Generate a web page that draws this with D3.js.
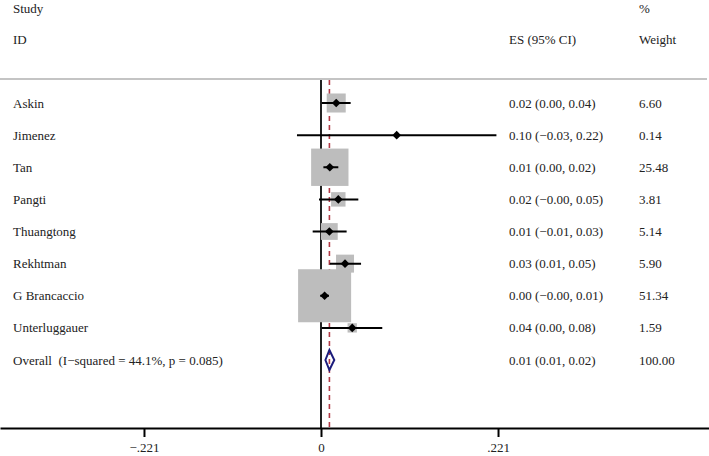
<!DOCTYPE html>
<html>
<head>
<meta charset="utf-8">
<script src="https://cdn.jsdelivr.net/npm/d3@7"></script>
<style>
  body { margin: 0; background: #fff; }
  text { font-family: "Liberation Serif", "Times New Roman", serif; font-size: 13px; fill: #222; }
</style>
</head>
<body>
<svg width="709" height="456"></svg>
<script>
// study rows, in plot order
var studies  = ["Askin", "Jimenez", "Tan", "Pangti", "Thuangtong", "Rekhtman", "G Brancaccio", "Unterluggauer"];
var es       = [0.019, 0.0945, 0.011, 0.0216, 0.0104, 0.030, 0.0045, 0.039];
var ciLow    = [0.001, -0.030, 0.003, -0.0025, -0.0104, 0.011, -0.001, 0.001];
var ciHigh   = [0.037, 0.219, 0.0216, 0.0466, 0.032, 0.050, 0.010, 0.0765];
var weights  = [6.60, 0.14, 25.48, 3.81, 5.14, 5.90, 51.34, 1.59];
var esLabels = ["0.02 (0.00, 0.04)", "0.10 (\u22120.03, 0.22)", "0.01 (0.00, 0.02)", "0.02 (\u22120.00, 0.05)",
                "0.01 (\u22120.01, 0.03)", "0.03 (0.01, 0.05)", "0.00 (\u22120.00, 0.01)", "0.04 (0.00, 0.08)"];
var wLabels  = ["6.60", "0.14", "25.48", "3.81", "5.14", "5.90", "51.34", "1.59"];

// pooled estimate
var overallLabel  = "Overall  (I\u2212squared = 44.1%, p = 0.085)";
var overall       = {es: 0.0105, lo: 0.0055, hi: 0.0166};
var overallEs     = "0.01 (0.01, 0.02)";
var overallWeight = "100.00";

var tickVals = [-0.221, 0, 0.221];

var svg = d3.select("svg");
var W = 709, H = 456;

// x scale: 0 sits at 321px, .221 is ~177px away
var x = d3.scaleLinear().domain([-321 / 801, (W - 321) / 801]).range([0, W]);

// rows: studies then overall
var rowNames = studies.concat(["overall"]);
var y = d3.scalePoint().domain(rowNames).range([103, 360]);

var boxSize = d3.scaleSqrt().domain([0, 100]).range([0, 74]);

var plotTop = 80, axisY = 428;
var colStudy = 13, colEs = 509, colW = 639;

// header
svg.append("text").attr("x", colStudy).attr("y", 8).attr("dy", "0.35em").text("Study");
svg.append("text").attr("x", colStudy).attr("y", 39).attr("dy", "0.35em").text("ID");
svg.append("text").attr("x", colEs).attr("y", 39).attr("dy", "0.35em").text("ES (95% CI)");
svg.append("text").attr("x", colW).attr("y", 8).attr("dy", "0.35em").text("%");
svg.append("text").attr("x", colW).attr("y", 39).attr("dy", "0.35em").text("Weight");

svg.append("line").attr("x1", 0).attr("x2", 707).attr("y1", 79).attr("y2", 79)
   .attr("stroke", "#c4c4c4").attr("stroke-width", 2);

// null line
svg.append("line").attr("x1", x(0)).attr("x2", x(0)).attr("y1", plotTop).attr("y2", axisY)
   .attr("stroke", "#222").attr("stroke-width", 2);

// overall effect line
svg.append("line").attr("x1", x(overall.es)).attr("x2", x(overall.es)).attr("y1", plotTop).attr("y2", axisY)
   .attr("stroke", "#b33a46").attr("stroke-width", 1.6).style("stroke-dasharray", "5,4");

// weight boxes
svg.selectAll("rect.wbox")
   .data(studies)
   .enter()
   .append("rect")
   .attr("class", "wbox")
   .attr("x", function(d, i) { return x(es[i]) - boxSize(weights[i]) / 2; })
   .attr("y", function(d, i) { return y(d) - boxSize(weights[i]) / 2; })
   .attr("width", function(d, i) { return boxSize(weights[i]); })
   .attr("height", function(d, i) { return boxSize(weights[i]); })
   .attr("fill", "#bdbdbd");

// confidence intervals
svg.selectAll("line.ci")
   .data(studies)
   .enter()
   .append("line")
   .attr("class", "ci")
   .attr("x1", function(d, i) { return x(ciLow[i]); })
   .attr("x2", function(d, i) { return x(ciHigh[i]); })
   .attr("y1", function(d) { return y(d); })
   .attr("y2", function(d) { return y(d); })
   .attr("stroke", "#000").attr("stroke-width", 2);

// point estimates (square turned 45deg)
var dia = d3.symbol().type(d3.symbolSquare).size(38);
svg.selectAll("path.pt")
   .data(studies)
   .enter()
   .append("path")
   .attr("class", "pt")
   .attr("d", dia)
   .attr("transform", function(d, i) { return "translate(" + x(es[i]) + "," + y(d) + ") rotate(45)"; })
   .attr("fill", "#000");

// overall diamond
var oy = y("overall");
svg.append("path")
   .attr("d", "M" + x(overall.lo) + "," + oy +
              "L" + x(overall.es) + "," + (oy - 10) +
              "L" + x(overall.hi) + "," + oy +
              "L" + x(overall.es) + "," + (oy + 10) + "Z")
   .attr("fill", "none").attr("stroke", "#1c1c7c").attr("stroke-width", 2);

// left and right text columns
svg.selectAll("text.name")
   .data(studies.concat([overallLabel]))
   .enter()
   .append("text")
   .attr("class", "name")
   .attr("x", colStudy)
   .attr("y", function(d, i) { return y(rowNames[i]); })
   .attr("dy", "0.35em")
   .style("white-space", "pre")
   .text(function(d) { return d; });

svg.selectAll("text.es")
   .data(esLabels.concat([overallEs]))
   .enter()
   .append("text")
   .attr("class", "es")
   .attr("x", colEs)
   .attr("y", function(d, i) { return y(rowNames[i]); })
   .attr("dy", "0.35em")
   .text(function(d) { return d; });

svg.selectAll("text.wt")
   .data(wLabels.concat([overallWeight]))
   .enter()
   .append("text")
   .attr("class", "wt")
   .attr("x", colW)
   .attr("y", function(d, i) { return y(rowNames[i]); })
   .attr("dy", "0.35em")
   .text(function(d) { return d; });

// x axis
var fmt = function(d) {
  if (d === 0) return "0";
  var s = d3.format(".3f")(Math.abs(d)).replace(/^0/, "");
  return (d < 0 ? "\u2212" : "") + s;
};
var xAxis = d3.axisBottom(x).tickValues(tickVals).tickFormat(fmt).tickSize(9).tickSizeOuter(0).tickPadding(6);
var gx = svg.append("g").attr("transform", "translate(0," + axisY + ")").call(xAxis);
gx.select(".domain").attr("stroke", "#000").attr("stroke-width", 2);
gx.selectAll(".tick line").attr("stroke", "#000").attr("stroke-width", 2);
gx.selectAll(".tick text").style("font-family", "Liberation Serif, serif").style("font-size", "13px").attr("fill", "#222");
</script>
</body>
</html>
